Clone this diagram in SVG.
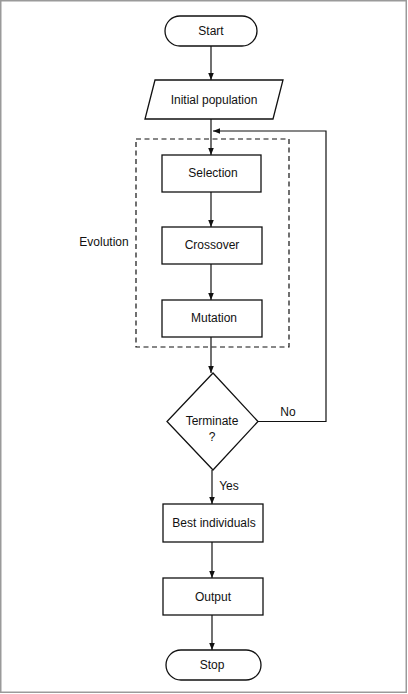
<svg xmlns="http://www.w3.org/2000/svg" width="408" height="694" viewBox="0 0 408 694">
<defs>
<marker id="ah" viewBox="0 0 10 10" refX="10" refY="5" markerWidth="7" markerHeight="7" orient="auto" markerUnits="userSpaceOnUse">
<path d="M0,1 L10,5 L0,9 Z" fill="#111"/>
</marker>
</defs>
<style>
.shape{fill:#fff;stroke:#111;stroke-width:1.3}
.lbl{font-family:"Liberation Sans",Arial,sans-serif;font-size:12px;fill:#111;text-anchor:middle;dominant-baseline:central}
.conn{fill:none;stroke:#111;stroke-width:1.2}
</style>
<rect x="0.75" y="0.75" width="405.5" height="691.5" fill="#fff" stroke="#9a9a9a" stroke-width="1.5"/>
<g id="connectors">
<path class="conn" d="M211,46 V80" marker-end="url(#ah)"/>
<path class="conn" d="M211,119 V155" marker-end="url(#ah)"/>
<path class="conn" d="M211,192 V227" marker-end="url(#ah)"/>
<path class="conn" d="M211,264 V300" marker-end="url(#ah)"/>
<path class="conn" d="M211,337 V373" marker-end="url(#ah)"/>
<path class="conn" d="M258,421.5 H326 V131 H213" marker-end="url(#ah)"/>
<path class="conn" d="M212,470 V504" marker-end="url(#ah)"/>
<path class="conn" d="M212,542 V578" marker-end="url(#ah)"/>
<path class="conn" d="M212,615 V650" marker-end="url(#ah)"/>
<text class="lbl" x="288" y="412">No</text>
<text class="lbl" x="229" y="486">Yes</text>
</g>
<g id="evolution">
<rect x="136" y="139" width="153" height="208" fill="none" stroke="#111" stroke-width="1.2" stroke-dasharray="5,3.5"/>
<text class="lbl" x="104" y="242">Evolution</text>
</g>
<g id="start">
<rect class="shape" x="165" y="16" width="92" height="30" rx="15" ry="15"/>
<text class="lbl" x="211" y="31">Start</text>
</g>
<g id="initial">
<polygon class="shape" points="155,80 283,80 273,119 145,119"/>
<text class="lbl" x="214" y="100">Initial population</text>
</g>
<g id="selection">
<rect class="shape" x="162" y="155" width="99" height="37"/>
<text class="lbl" x="213" y="173">Selection</text>
</g>
<g id="crossover">
<rect class="shape" x="162" y="227" width="100" height="37"/>
<text class="lbl" x="212" y="245">Crossover</text>
</g>
<g id="mutation">
<rect class="shape" x="162" y="300" width="100" height="37"/>
<text class="lbl" x="214" y="318">Mutation</text>
</g>
<g id="terminate">
<polygon class="shape" points="213,373 258,421.5 213,470 167,421.5"/>
<text class="lbl" x="212" y="421">Terminate</text>
<text class="lbl" x="212" y="437">?</text>
</g>
<g id="best">
<rect class="shape" x="163" y="504" width="100" height="38"/>
<text class="lbl" x="214" y="523">Best individuals</text>
</g>
<g id="output">
<rect class="shape" x="163" y="578" width="100" height="37"/>
<text class="lbl" x="213" y="597">Output</text>
</g>
<g id="stop">
<rect class="shape" x="166" y="650" width="95" height="30" rx="15" ry="15"/>
<text class="lbl" x="212" y="665">Stop</text>
</g>
</svg>
